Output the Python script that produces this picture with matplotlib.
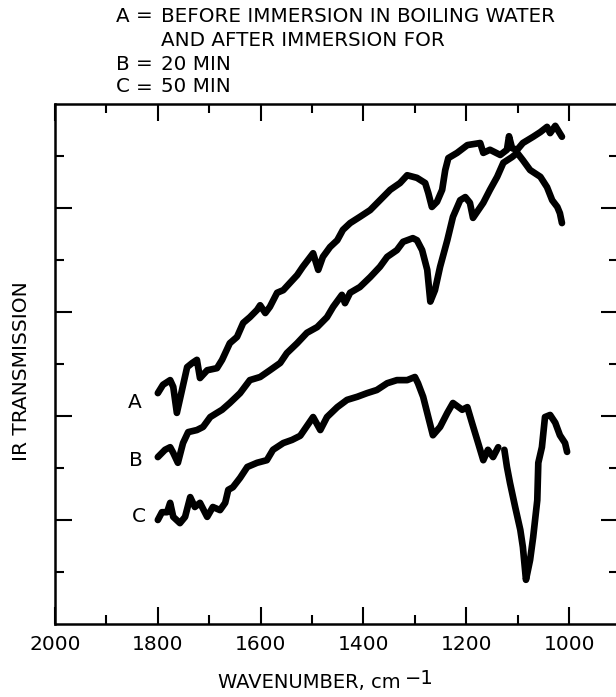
import numpy as np
import matplotlib.pyplot as plt
from matplotlib.ticker import FixedLocator, NullFormatter

plt.rcParams['font.family'] = 'DejaVu Sans'

# Spectrum A: before immersion in boiling water
a_wn = [1800, 1790, 1776, 1770, 1763, 1753, 1743, 1733, 1724, 1718, 1704, 1685,
        1675, 1660, 1646, 1634, 1621, 1607, 1601, 1591, 1582, 1568, 1556, 1543,
        1529, 1518, 1498, 1488, 1479, 1465, 1451, 1440, 1426, 1407, 1387, 1368,
        1348, 1329, 1315, 1296, 1280, 1274, 1267, 1257, 1247, 1241, 1235, 1218,
        1198, 1173, 1167, 1154, 1134, 1121, 1117, 1111, 1101, 1090, 1070, 1056,
        1043, 1037, 1027, 1014]
a_tr = [4.44, 4.60, 4.69, 4.56, 4.06, 4.50, 4.94, 5.02, 5.08, 4.73, 4.88, 4.92,
        5.08, 5.40, 5.52, 5.79, 5.90, 6.04, 6.13, 5.98, 6.10, 6.37, 6.42, 6.56,
        6.71, 6.87, 7.13, 6.81, 7.06, 7.25, 7.38, 7.58, 7.71, 7.83, 7.96, 8.15,
        8.35, 8.48, 8.63, 8.58, 8.48, 8.29, 8.02, 8.12, 8.35, 8.73, 8.96, 9.06,
        9.21, 9.25, 9.06, 9.12, 9.02, 9.12, 9.38, 9.15, 9.12, 9.25, 9.37, 9.46,
        9.56, 9.44, 9.58, 9.37]

# Spectrum B: after 20 min
b_wn = [1800, 1786, 1776, 1770, 1761, 1751, 1741, 1724, 1712, 1698, 1685, 1675,
        1660, 1640, 1621, 1601, 1582, 1562, 1549, 1529, 1510, 1490, 1471, 1459,
        1442, 1436, 1426, 1407, 1387, 1368, 1354, 1335, 1323, 1304, 1296, 1286,
        1276, 1270, 1261, 1251, 1237, 1226, 1212, 1202, 1193, 1187, 1167, 1154,
        1140, 1128, 1111, 1101, 1090, 1076, 1056, 1043, 1033, 1023, 1018, 1014]
b_tr = [3.21, 3.35, 3.40, 3.29, 3.10, 3.48, 3.69, 3.73, 3.79, 3.98, 4.06, 4.12,
        4.25, 4.44, 4.69, 4.75, 4.88, 5.02, 5.21, 5.40, 5.60, 5.71, 5.90, 6.10,
        6.33, 6.17, 6.37, 6.48, 6.67, 6.87, 7.06, 7.19, 7.35, 7.42, 7.38, 7.19,
        6.81, 6.20, 6.42, 6.87, 7.38, 7.83, 8.15, 8.21, 8.10, 7.81, 8.10, 8.35,
        8.60, 8.87, 8.98, 9.06, 8.92, 8.73, 8.60, 8.40, 8.15, 8.02, 7.90, 7.71]

# Spectrum C: after 50 min (trace broken near 1130)
c_wn = [1800, 1792, 1782, 1776, 1770, 1757, 1747, 1737, 1728, 1718, 1704, 1693,
        1679, 1669, 1663, 1654, 1640, 1626, 1607, 1588, 1576, 1556, 1539, 1523,
        1498, 1484, 1471, 1451, 1432, 1412, 1393, 1374, 1354, 1335, 1315, 1300,
        1294, 1284, 1274, 1265, 1251, 1237, 1226, 1208, 1198, 1189, 1177, 1167,
        1158, 1148, 1138, 1132, 1126, 1121, 1115, 1105, 1095, 1090, 1084, 1076,
        1070, 1062, 1060, 1053, 1047, 1037, 1027, 1018, 1008, 1004]
c_tr = [2.00, 2.15, 2.15, 2.33, 2.06, 1.94, 2.06, 2.44, 2.25, 2.33, 2.06, 2.25,
        2.19, 2.33, 2.58, 2.63, 2.81, 3.02, 3.10, 3.15, 3.35, 3.48, 3.54, 3.62,
        3.98, 3.73, 3.98, 4.17, 4.31, 4.37, 4.44, 4.50, 4.63, 4.69, 4.69, 4.75,
        4.63, 4.37, 3.98, 3.63, 3.79, 4.06, 4.25, 4.12, 4.17, 3.87, 3.48, 3.15,
        3.35, 3.21, 3.40, np.nan, 3.35, 3.02, 2.71, 2.25, 1.81, 1.48, 0.85, 1.23,
        1.67, 2.38, 3.10, 3.40, 3.98, 4.02, 3.87, 3.63, 3.48, 3.31]

curve_names = ["A", "B", "C"]
curve_label_px = [(135, 402), (136, 461), (139, 516)]

W, H = 616, 697
fig = plt.figure(figsize=(W / 100, H / 100), dpi=100)


def fx(px):
    return px / W


def fy(py):
    return 1 - py / H


ax = fig.add_axes([fx(55), fy(624), fx(618) - fx(55), fy(104) - fy(624)])

for wn, tr in [(a_wn, a_tr), (b_wn, b_tr), (c_wn, c_tr)]:
    ax.plot(wn, tr, color="black", lw=4.8, solid_joinstyle="round",
            solid_capstyle="round")

ax.set_xlim(2000, 905)
ax.set_ylim(0, 10)

ax.xaxis.set_major_locator(FixedLocator([2000, 1800, 1600, 1400, 1200, 1000]))
ax.xaxis.set_minor_locator(FixedLocator([1900, 1700, 1500, 1300, 1100]))
ax.yaxis.set_major_locator(FixedLocator([2, 4, 6, 8]))
ax.yaxis.set_minor_locator(FixedLocator([1, 3, 5, 7, 9]))
ax.yaxis.set_major_formatter(NullFormatter())

ax.tick_params(which="both", direction="in", top=True, right=True,
               width=1.5, color="black")
ax.tick_params(which="major", length=12)
ax.tick_params(which="minor", length=6.5)
ax.tick_params(axis="x", labelsize=14.5, pad=8)

for side in ax.spines.values():
    side.set_linewidth(1.8)

# curve letters
for name, (px, py) in zip(curve_names, curve_label_px):
    fig.text(fx(px), fy(py), name, fontsize=14.5, ha="center", va="center")

# key at the top
key_rows = [("A", "=", "BEFORE IMMERSION IN BOILING WATER", 16),
            ("", "", "AND AFTER IMMERSION FOR", 40),
            ("B", "=", "20 MIN", 64),
            ("C", "=", "50 MIN", 87)]
for letter, eq, desc, py in key_rows:
    fig.text(fx(116), fy(py), letter, fontsize=14.3, ha="left", va="center")
    fig.text(fx(144), fy(py), eq, fontsize=14.3, ha="center", va="center")
    fig.text(fx(161), fy(py), desc, fontsize=14.3, ha="left", va="center")

fig.text(fx(22), fy(371), "IR TRANSMISSION", rotation=90, fontsize=14.5,
         ha="center", va="center")

xl = fig.text(fx(218), fy(683), "WAVENUMBER, cm", fontsize=14,
              ha="left", va="center")
ax.annotate("\u22121", xy=(1, 0.5), xycoords=xl, xytext=(3, 3),
            textcoords="offset points", fontsize=14, va="center", ha="left",
            annotation_clip=False)

fig.savefig("out.png", dpi=100)
